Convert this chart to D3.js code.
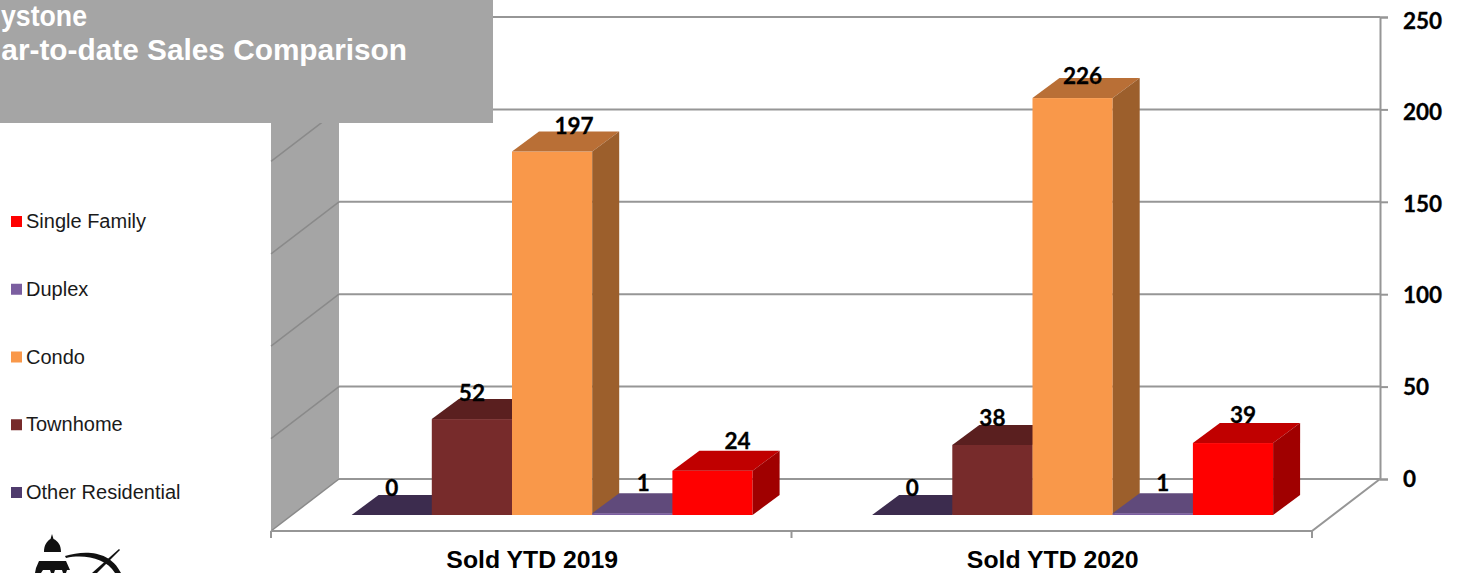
<!DOCTYPE html>
<html>
<head>
<meta charset="utf-8">
<script src="https://cdn.jsdelivr.net/npm/d3@7"></script>
<style>
body { margin: 0; background: #fff; }
svg { display: block; }
.num { font-family: Lato, sans-serif; font-weight: 700; font-size: 22.5px; fill: #000; stroke: #000; stroke-width: 0.3px; }
</style>
</head>
<body>
<script>
var w = 1463;
var h = 573;

var periods = ["Sold YTD 2019", "Sold YTD 2020"];
var seriesNames = ["Other Residential", "Townhome", "Condo", "Duplex", "Single Family"];
var sold2019 = [0, 52, 197, 1, 24];
var sold2020 = [0, 38, 226, 1, 39];
var yTicks = [0, 50, 100, 150, 200, 250];
var legendOrder = ["Single Family", "Duplex", "Condo", "Townhome", "Other Residential"];

var values = [sold2019, sold2020];

// front, top and side shades per series
var front = ["#3c2c4e", "#772b2b", "#f9984a", "#7b5ea0", "#ff0000"];
var topFace = ["#3c2c4e", "#5a1f1f", "#b96f36", "#604a7b", "#c00000"];
var sideFace = ["#32243f", "#4f1b1b", "#9c5f2c", "#544068", "#a00000"];
var legendColor = ["#4f3b6d", "#772b2b", "#f9984a", "#7b5ea0", "#ff0000"];

var gridColor = "#969696";
var depthX = 68, depthY = 52;   // how far the back wall sits from the floor front
var barDepthX = 27, barDepthY = 20;
var shiftX = 20.6;              // bars stand a bit in front of the back wall

var floorLeft = 271, floorRight = 1312, floorFront = 531;

var svg = d3.select("body").append("svg")
    .attr("width", w)
    .attr("height", h);

var x0 = d3.scaleBand().domain(periods).range([floorLeft, floorRight]);
var x1 = d3.scaleBand().domain(seriesNames).range([60, 461]);
var y = d3.scaleLinear().domain([0, 250]).range([floorFront - depthY, 17]);
// bars are nearer the viewer, so their scale is a little different from the wall
var yBar = d3.scaleLinear().domain([0, 250]).range([515, 53.8]);
// tick labels drift slightly from the gridlines in the original
var yLabel = d3.scaleLinear().domain([0, 250]).range([478, 20]);

function pts(a) {
    return a.map(function (p) { return p.join(","); }).join(" ");
}

// left wall
svg.append("polygon")
    .attr("points", pts([
        [floorLeft, floorFront],
        [floorLeft + depthX, floorFront - depthY],
        [floorLeft + depthX, y(250)],
        [floorLeft, y(250) + depthY]
    ]))
    .attr("fill", "#a5a5a5");

// gridlines on back wall and left wall
yTicks.forEach(function (t) {
    svg.append("line")
        .attr("x1", floorLeft + depthX).attr("x2", floorRight + depthX)
        .attr("y1", y(t)).attr("y2", y(t))
        .attr("stroke", gridColor).attr("stroke-width", 2);
    svg.append("line")
        .attr("x1", floorLeft).attr("x2", floorLeft + depthX)
        .attr("y1", y(t) + depthY).attr("y2", y(t))
        .attr("stroke", "#8a8a8a").attr("stroke-width", 1.5);
});

// floor outline
svg.append("polyline")
    .attr("points", pts([
        [floorLeft, floorFront],
        [floorRight, floorFront],
        [floorRight + depthX, floorFront - depthY]
    ]))
    .attr("fill", "none")
    .attr("stroke", gridColor).attr("stroke-width", 2);

// right value axis
var yAxis = d3.axisRight(y).tickValues(yTicks).tickSize(8).tickPadding(15);
var yG = svg.append("g")
    .attr("transform", "translate(" + (floorRight + depthX) + ",0)")
    .call(yAxis);
yG.selectAll("path").attr("stroke", gridColor).attr("stroke-width", 2);
yG.selectAll("line").attr("stroke", gridColor).attr("stroke-width", 2);
yG.selectAll("text")
    .attr("class", "num")
    .attr("y", function (d) { return yLabel(d) - y(d); })
    .attr("dy", "0.36em");

// category axis
var xAxis = d3.axisBottom(x0).tickSize(0).tickPadding(16);
var xG = svg.append("g")
    .attr("transform", "translate(0," + floorFront + ")")
    .call(xAxis);
xG.select("path").remove();
xG.selectAll("text")
    .attr("font-family", "'Liberation Sans', Arial, sans-serif")
    .attr("font-weight", "bold")
    .attr("font-size", "24.8px")
    .attr("fill", "#000")
    .attr("x", 1)
    .attr("dy", "0.85em");

// tick marks between the groups
[floorLeft, x0(periods[1]), floorRight].forEach(function (tx) {
    svg.append("line")
        .attr("x1", tx).attr("x2", tx)
        .attr("y1", floorFront).attr("y2", floorFront + 7)
        .attr("stroke", gridColor).attr("stroke-width", 2);
});

// bars, left to right so each front covers the neighbour's side
periods.forEach(function (p, g) {
    seriesNames.forEach(function (s, i) {
        var v = values[g][i];
        var l = x0(p) + x1(s) + shiftX;
        var r = l + x1.bandwidth();
        var b = yBar(0);
        var t = yBar(v);
        var bar = svg.append("g").attr("class", "bar");
        bar.append("rect")
            .attr("x", l).attr("y", t)
            .attr("width", r - l).attr("height", b - t)
            .attr("fill", front[i]);
        bar.append("polygon")
            .attr("points", pts([[l, t], [r, t], [r + barDepthX, t - barDepthY], [l + barDepthX, t - barDepthY]]))
            .attr("fill", topFace[i]);
        bar.append("polygon")
            .attr("points", pts([[r, b], [r + barDepthX, b - barDepthY], [r + barDepthX, t - barDepthY], [r, t]]))
            .attr("fill", sideFace[i]);
    });
});

// data labels were nudged by hand in the original, [dx, dy] from bar centre / back edge of the top
var labelNudge = [
    [[0, -7], [0, -6], [22, -5], [11, -10], [25, -10]],
    [[0, -7], [0, -7], [10, -2], [10, -10], [10, -8]]
];
periods.forEach(function (p, g) {
    seriesNames.forEach(function (s, i) {
        var v = values[g][i];
        svg.append("text")
            .attr("class", "num")
            .attr("x", x0(p) + x1(s) + shiftX + x1.bandwidth() / 2 + labelNudge[g][i][0])
            .attr("y", yBar(v) - barDepthY + labelNudge[g][i][1])
            .attr("dy", "0.35em")
            .attr("text-anchor", "middle")
            .text(v);
    });
});

// legend
var legendY = d3.scalePoint().domain(legendOrder).range([221, 492]);
legendOrder.forEach(function (name) {
    var c = legendColor[seriesNames.indexOf(name)];
    svg.append("rect")
        .attr("x", 11).attr("y", legendY(name) - 5)
        .attr("width", 11).attr("height", 11)
        .attr("fill", c);
    svg.append("text")
        .attr("x", 26).attr("y", legendY(name))
        .attr("dy", "0.35em")
        .attr("font-family", "'Liberation Sans', Arial, sans-serif")
        .attr("font-size", "20px")
        .attr("fill", "#1a1a1a")
        .text(name);
});

// title box sits on top of the chart and runs off the left edge
svg.append("rect")
    .attr("x", 0).attr("y", 0)
    .attr("width", 493).attr("height", 123)
    .attr("fill", "#a5a5a5");
var title = svg.append("g")
    .attr("font-family", "'Liberation Sans', Arial, sans-serif")
    .attr("font-weight", "bold")
    .attr("font-size", "29.8px")
    .attr("fill", "#fff");
// squeezed a little so the first line stays inside the page
title.append("text").attr("x", 1).attr("y", 26)
    .attr("textLength", 86).attr("lengthAdjust", "spacingAndGlyphs")
    .text("ystone");
title.append("text").attr("x", 407).attr("y", 60).attr("text-anchor", "end").text("ar-to-date Sales Comparison");

// logo, cut by the bottom of the page
var logo = svg.append("g").attr("fill", "#111");
logo.append("path").attr("d", "M52 534 L53.5 539 C58 541 61 545 61 552 L44 552 C44 545 47 541 50.5 539 Z");
logo.append("path").attr("d", "M39 561 L66 561 L70 570 L67 570 L66 573 L63 573 L62 570 L55 570 L54 573 L51 573 L50 570 L43 570 L41 573 L35 573 L36 568 Z");
logo.append("path").attr("d", "M65 556 C84 550 110 550 121 573 L115 573 C106 558 84 554 66 558 Z");
logo.append("path").attr("d", "M92 573 L119 549 L120 550 L97 573 Z");
</script>
</body>
</html>
